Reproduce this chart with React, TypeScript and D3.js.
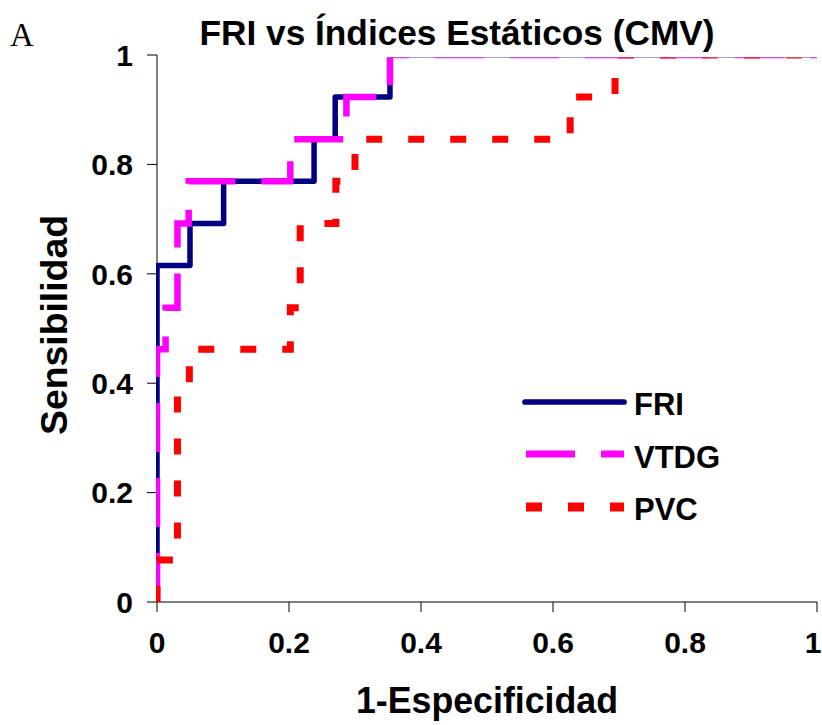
import React from 'react';
import * as d3 from 'd3';

// ROC step points (1-Especificidad, Sensibilidad), drawn with curveStepAfter
const fprFRI = [0, 0, 0.05, 0.101, 0.238, 0.27, 0.353, 1];
const tprFRI = [0, 0.615, 0.692, 0.769, 0.846, 0.923, 1, 1];
const fprVTDG = [0, 0, 0.013, 0.031, 0.048, 0.202, 0.287, 0.353, 1];
const tprVTDG = [0, 0.462, 0.538, 0.692, 0.769, 0.846, 0.923, 1, 1];
const fprPVC = [0, 0, 0.031, 0.049, 0.202, 0.217, 0.271, 0.3, 0.626, 0.694, 1];
const tprPVC = [0, 0.077, 0.385, 0.462, 0.538, 0.692, 0.769, 0.846, 0.923, 1, 1];

const seriesNames = ['FRI', 'VTDG', 'PVC'];
const xTicks = [0, 0.2, 0.4, 0.6, 0.8, 1];
const yTicks = [0, 0.2, 0.4, 0.6, 0.8, 1];
const xTickLabels = ['0', '0.2', '0.4', '0.6', '0.8', '1'];
const yTickLabels = ['0', '0.2', '0.4', '0.6', '0.8', '1'];

const titleText = 'FRI vs Índices Estáticos (CMV)';
const xTitle = '1-Especificidad';
const yTitle = 'Sensibilidad';
const panelLabel = 'A';

const styles: Record<string, { color: string; width: number; legendWidth: number; dash: string | null; cap: string }> = {
  FRI: { color: '#000080', width: 5.5, legendWidth: 5.7, dash: null, cap: 'round' },
  VTDG: { color: '#FF00FF', width: 6.5, legendWidth: 7, dash: '49 26', cap: 'butt' },
  PVC: { color: '#FF0000', width: 7, legendWidth: 9, dash: '16 26', cap: 'butt' },
};

const FONT = '"Liberation Sans", Arial, sans-serif';

export default function App() {
  const x = d3.scaleLinear().domain([0, 1]).range([157, 817]);
  const y = d3.scaleLinear().domain([0, 1]).range([602, 55]);

  const data: Record<string, [number, number][]> = {
    FRI: fprFRI.map((v, i) => [v, tprFRI[i]]),
    VTDG: fprVTDG.map((v, i) => [v, tprVTDG[i]]),
    PVC: fprPVC.map((v, i) => [v, tprPVC[i]]),
  };

  const line = d3
    .line<[number, number]>()
    .x((d) => x(d[0]))
    .y((d) => y(d[1]))
    .curve(d3.curveStepAfter);

  const legendY = [402, 454, 507];
  const legendTextY = [415, 468, 520];

  return (
    <svg
      width={822}
      height={725}
      style={{ position: 'absolute', left: 0, top: 0, display: 'block', background: '#fff' }}
    >
      <defs>
        <clipPath id="plotClip">
          <rect x={x(0) - 1} y={y(1) + 2.5} width={x(1) - x(0) + 1} height={y(0) - y(1) - 2.5} />
        </clipPath>
      </defs>
      <rect x={0} y={0} width={822} height={725} fill="#fff" />

      {/* panel label */}
      <text x={10} y={46} fontFamily='"Liberation Serif", "Times New Roman", serif' fontSize={33} fill="#000">
        {panelLabel}
      </text>

      {/* title */}
      <text
        x={457}
        y={45}
        textAnchor="middle"
        fontFamily={FONT}
        fontWeight="bold"
        fontSize={35}
        textLength={515}
        lengthAdjust="spacingAndGlyphs"
        fill="#000"
      >
        {titleText}
      </text>

      {/* axes */}
      <line x1={x(0)} x2={x(0)} y1={y(1)} y2={y(0)} stroke="#000" strokeWidth={1} />
      <line x1={x(0)} x2={x(1)} y1={y(0)} y2={y(0)} stroke="#000" strokeWidth={1} />
      {yTicks.map((t, i) => (
        <g key={'yt' + i}>
          <line x1={x(0) - 10} x2={x(0)} y1={y(t)} y2={y(t)} stroke="#000" strokeWidth={1} />
          <text
            x={133}
            y={y(t)}
            dy="0.36em"
            textAnchor="end"
            fontFamily={FONT}
            fontWeight="bold"
            fontSize={30}
            fill="#000"
          >
            {yTickLabels[i]}
          </text>
        </g>
      ))}
      {xTicks.map((t, i) => (
        <g key={'xt' + i}>
          <line x1={x(t)} x2={x(t)} y1={y(0)} y2={y(0) + 10} stroke="#000" strokeWidth={1} />
          <text
            x={i === xTicks.length - 1 ? x(t) - 4 : x(t)}
            y={653}
            textAnchor="middle"
            fontFamily={FONT}
            fontWeight="bold"
            fontSize={30}
            fill="#000"
          >
            {xTickLabels[i]}
          </text>
        </g>
      ))}

      {/* axis titles */}
      <text
        x={487}
        y={713}
        textAnchor="middle"
        fontFamily={FONT}
        fontWeight="bold"
        fontSize={36}
        textLength={262}
        lengthAdjust="spacingAndGlyphs"
        fill="#000"
      >
        {xTitle}
      </text>
      <text
        transform="translate(67,325) rotate(-90)"
        textAnchor="middle"
        fontFamily={FONT}
        fontWeight="bold"
        fontSize={37}
        textLength={220}
        lengthAdjust="spacingAndGlyphs"
        fill="#000"
      >
        {yTitle}
      </text>

      {/* series */}
      <g clipPath="url(#plotClip)">
        {seriesNames.map((name) => {
          const s = styles[name];
          return (
            <path
              key={name}
              d={line(data[name]) || ''}
              fill="none"
              stroke={s.color}
              strokeWidth={s.width}
              strokeDasharray={s.dash || undefined}
              strokeLinecap={s.cap as any}
              strokeLinejoin={s.dash ? 'miter' : 'round'}
            />
          );
        })}
      </g>

      {/* legend */}
      {seriesNames.map((name, i) => {
        const s = styles[name];
        return (
          <g key={'lg' + name}>
            <line
              x1={s.dash ? 526 : 525}
              x2={624}
              y1={legendY[i]}
              y2={legendY[i]}
              stroke={s.color}
              strokeWidth={s.legendWidth}
              strokeDasharray={s.dash || undefined}
              strokeLinecap={s.cap as any}
            />
            <text
              x={634}
              y={legendTextY[i]}
              fontFamily={FONT}
              fontWeight="bold"
              fontSize={31}
              fill="#000"
            >
              {name}
            </text>
          </g>
        );
      })}
    </svg>
  );
}
